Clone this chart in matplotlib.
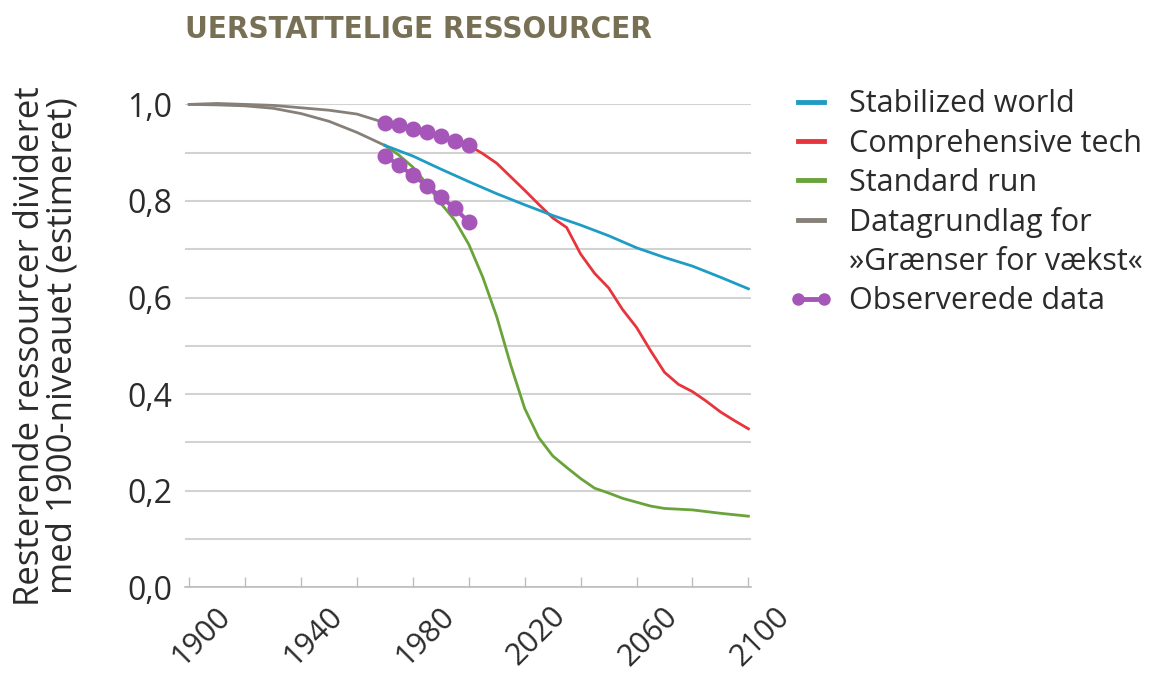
import numpy as np
import matplotlib
matplotlib.use("Agg")
import matplotlib.pyplot as plt
import matplotlib.transforms as mtransforms
from matplotlib import font_manager
from matplotlib.lines import Line2D
from matplotlib.legend_handler import HandlerLine2D

# --- data ---
gray_years = [1900, 1910, 1920, 1930, 1940, 1950, 1960, 1970]
gray_upper = [1.000, 1.002, 1.000, 0.998, 0.993, 0.988, 0.980, 0.962]
gray_lower = [1.000, 0.999, 0.997, 0.992, 0.981, 0.965, 0.942, 0.915]

blue_years = [1970, 1980, 1990, 2000, 2010, 2020, 2030, 2040, 2050, 2060, 2070, 2080, 2090, 2100]
blue_vals = [0.915, 0.893, 0.866, 0.840, 0.815, 0.792, 0.770, 0.750, 0.728, 0.703, 0.683, 0.665, 0.642, 0.618]

red_years = [1970, 1980, 1990, 2000, 2005, 2010, 2015, 2020, 2025, 2030, 2035, 2040, 2045,
             2050, 2055, 2060, 2065, 2070, 2075, 2080, 2085, 2090, 2095, 2100]
red_vals = [0.961, 0.950, 0.934, 0.915, 0.898, 0.878, 0.850, 0.822, 0.793, 0.765, 0.745, 0.690, 0.650,
            0.620, 0.575, 0.538, 0.490, 0.445, 0.420, 0.405, 0.385, 0.363, 0.345, 0.328]

green_years = [1970, 1975, 1980, 1985, 1990, 1995, 2000, 2005, 2010, 2015, 2020, 2025, 2030,
               2035, 2040, 2045, 2050, 2055, 2060, 2065, 2070, 2080, 2090, 2100]
green_vals = [0.915, 0.895, 0.870, 0.835, 0.795, 0.760, 0.710, 0.642, 0.560, 0.460, 0.370, 0.310, 0.272,
              0.248, 0.225, 0.205, 0.195, 0.184, 0.176, 0.168, 0.163, 0.160, 0.153, 0.147]

obs_years = [1970, 1975, 1980, 1985, 1990, 1995, 2000]
obs_upper = [0.961, 0.957, 0.950, 0.942, 0.934, 0.925, 0.915]
obs_lower = [0.894, 0.874, 0.853, 0.832, 0.808, 0.785, 0.756]

year_ticks = list(range(1900, 2101, 20))
year_labels = ["1900", "1940", "1980", "2020", "2060", "2100"]
y_ticks = [0.0, 0.2, 0.4, 0.6, 0.8, 1.0]
y_labels = ["0,0", "0,2", "0,4", "0,6", "0,8", "1,0"]

BLUE = "#1f9cc4"
RED = "#e8343c"
GREEN = "#6aa33a"
GRAY = "#868079"
PURPLE = "#a655b8"
TEXT = "#2b2b2b"

names = {f.name for f in font_manager.fontManager.ttflist}
base_font = "Open Sans" if "Open Sans" in names else "DejaVu Sans"
plt.rcParams["font.family"] = [base_font, "DejaVu Sans"]

# condensed bold for the title if there is one
title_kw = dict(family=[base_font, "DejaVu Sans"], fontweight=800)
for f in font_manager.fontManager.ttflist:
    if f.name == "DejaVu Sans" and "condensed" in str(f.stretch) and f.weight in (700, "bold"):
        title_kw = dict(family=["DejaVu Sans"], fontweight="bold", fontstretch="condensed")
        break

fig = plt.figure(figsize=(11.52, 6.78), dpi=100)
ax = fig.add_axes([0.1606, 0.134, 0.491, 0.712])

ax.plot(gray_years, gray_upper, color=GRAY, lw=2, clip_on=False, zorder=3)
ax.plot(gray_years, gray_lower, color=GRAY, lw=2, clip_on=False, zorder=3)
ax.plot(red_years, red_vals, color=RED, lw=2, zorder=3)
ax.plot(green_years, green_vals, color=GREEN, lw=2, zorder=3)
ax.plot(blue_years, blue_vals, color=BLUE, lw=2, zorder=4)
for obs in (obs_upper, obs_lower):
    ax.plot(obs_years, obs, color=PURPLE, lw=3, marker="o", markersize=11.5,
            markeredgewidth=0, zorder=5)

ax.set_xlim(1898.5, 2100.8)
ax.set_ylim(0, 1.0)

ax.set_yticks(y_ticks)
ax.set_yticklabels(y_labels, fontsize=23, color=TEXT)
ax.set_yticks(np.arange(0.1, 1.0, 0.2), minor=True)
ax.yaxis.grid(True, which="both", color="#d2d2d2", lw=1.5)
ax.tick_params(axis="y", which="both", length=0, pad=9)

ax.set_xticks(year_ticks)
ax.set_xticklabels([str(y) if str(y) in year_labels else "" for y in year_ticks],
                   rotation=45, ha="center", fontsize=22, color=TEXT)
ax.tick_params(axis="x", direction="in", length=7, width=1, color="#bdbdbd", pad=10)
shift = mtransforms.ScaledTranslation(12 / 100, 0, fig.dpi_scale_trans)
for lab in ax.get_xticklabels():
    lab.set_transform(lab.get_transform() + shift)

for s in ["top", "right", "left"]:
    ax.spines[s].set_visible(False)
ax.spines["bottom"].set_color("#bdbdbd")
ax.spines["bottom"].set_linewidth(1.2)

ax.set_ylabel("Resterende ressourcer divideret\nmed 1900-niveauet (estimeret)",
              fontsize=25, color=TEXT, linespacing=0.95)
ax.yaxis.set_label_coords(-0.186, 0.5)

title = fig.text(0.161, 0.956, "UERSTATTELIGE RESSOURCER", fontsize=30,
                 color="#787055", ha="left", va="center", **title_kw)
# squeeze the title to the width it has in the reference
fig.canvas.draw()
w = title.get_window_extent().width
if w > 470:
    title.set_fontsize(30 * 465 / w)

handles = [
    Line2D([], [], color=BLUE, lw=3.5),
    Line2D([], [], color=RED, lw=3.5),
    Line2D([], [], color=GREEN, lw=3.5),
    Line2D([], [], color=GRAY, lw=3.5),
    Line2D([], [], color="none"),
    Line2D([], [], color=PURPLE, lw=3.5, marker="o", markersize=9, markeredgewidth=0),
]
labels = ["Stabilized world", "Comprehensive tech", "Standard run", "Datagrundlag for",
          "»Grænser for vækst«", "Observerede data"]
leg = fig.legend(handles, labels, loc="upper left", bbox_to_anchor=(0.693, 0.868),
                 frameon=False, fontsize=22, handlelength=0.85, handletextpad=0.8,
                 labelspacing=0.3, borderaxespad=0, borderpad=0,
                 handler_map={Line2D: HandlerLine2D(marker_pad=0, numpoints=2)})
for t in leg.get_texts():
    t.set_color(TEXT)

fig.savefig("out.png", dpi=100, facecolor="white")
